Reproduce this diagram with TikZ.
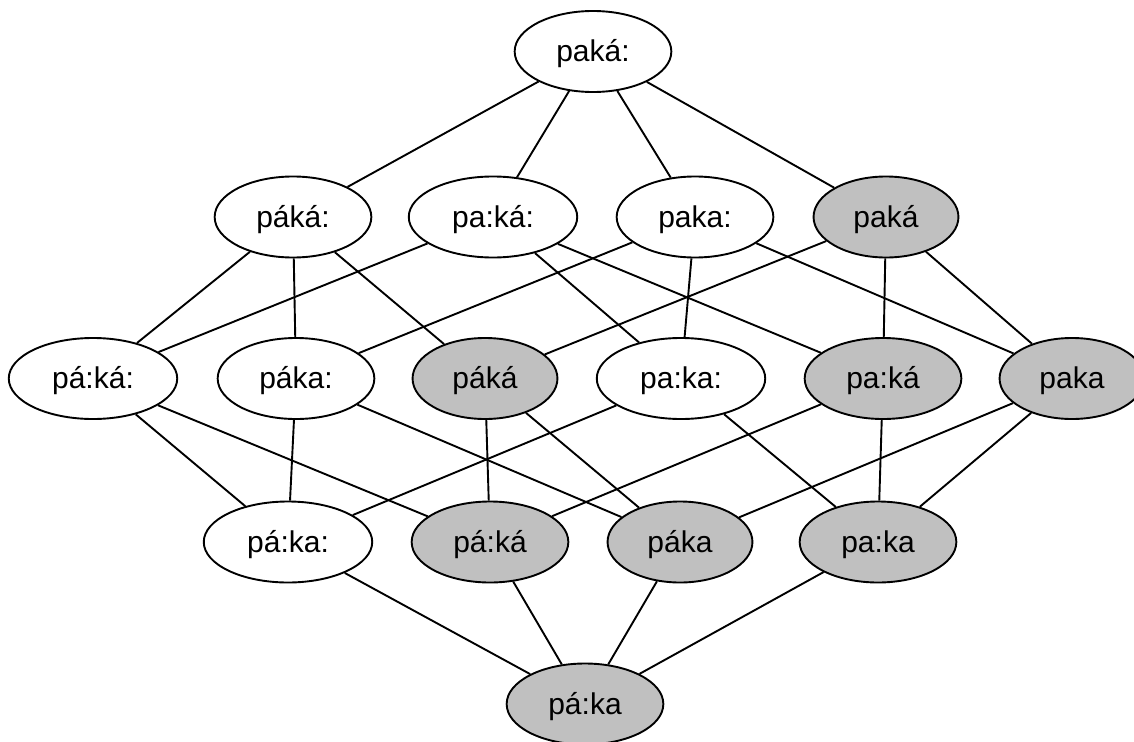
\documentclass[tikz,border=0pt]{standalone}
\usepackage{fontspec}
\setmainfont{Liberation Sans}
\usetikzlibrary{shapes.geometric}
\definecolor{shade}{HTML}{C0C0C0}
\tikzset{
  form/.style={ellipse, draw=black, line width=1.9pt, fill=white,
    inner xsep=18.7pt, inner ysep=0pt, minimum height=81pt,
    text height=26.7pt, text depth=6.3pt,
    font=\fontsize{30}{36}\selectfont},
  marked/.style={form, fill=shade},
  link/.style={line width=1.9pt, black}
}
\begin{document}
\begin{tikzpicture}[x=1pt, y=-1pt]
\useasboundingbox (0,0) rectangle (1134,741);
% top
\node[form]   (t)    at (593,51.5)  {paká:};
% second row
\node[form]   (a1)   at (293,217)   {páká:};
\node[form]   (a2)   at (493,217)   {pa:ká:};
\node[form]   (a3)   at (695,217)   {paka:};
\node[marked] (a4)   at (886,217)   {paká};
% third row
\node[form]   (b1)   at (93,378.5)  {pá:ká:};
\node[form]   (b2)   at (296,378.5) {páka:};
\node[marked] (b3)   at (485,378.5) {páká};
\node[form]   (b4)   at (681,378.5) {pa:ka:};
\node[marked] (b5)   at (883,378.5) {pa:ká};
\node[marked] (b6)   at (1072,378.5) {paka};
% fourth row
\node[form]   (c1)   at (288,542)   {pá:ka:};
\node[marked] (c2)   at (490,542)   {pá:ká};
\node[marked] (c3)   at (680,542)   {páka};
\node[marked] (c4)   at (878,542)   {pa:ka};
% bottom
\node[marked] (bot)  at (585,704)   {pá:ka};

% top to second row
\foreach \n in {a1,a2,a3,a4} \draw[link] (t) -- (\n);
% second to third row
\draw[link] (a1) -- (b1); \draw[link] (a1) -- (b2); \draw[link] (a1) -- (b3);
\draw[link] (a2) -- (b1); \draw[link] (a2) -- (b4); \draw[link] (a2) -- (b5);
\draw[link] (a3) -- (b2); \draw[link] (a3) -- (b4); \draw[link] (a3) -- (b6);
\draw[link] (a4) -- (b3); \draw[link] (a4) -- (b5); \draw[link] (a4) -- (b6);
% third to fourth row
\draw[link] (b1) -- (c1); \draw[link] (b1) -- (c2);
\draw[link] (b2) -- (c1); \draw[link] (b2) -- (c3);
\draw[link] (b3) -- (c2); \draw[link] (b3) -- (c3);
\draw[link] (b4) -- (c1); \draw[link] (b4) -- (c4);
\draw[link] (b5) -- (c2); \draw[link] (b5) -- (c4);
\draw[link] (b6) -- (c3); \draw[link] (b6) -- (c4);
% fourth row to bottom
\foreach \n in {c1,c2,c3,c4} \draw[link] (\n) -- (bot);
\end{tikzpicture}
\end{document}
